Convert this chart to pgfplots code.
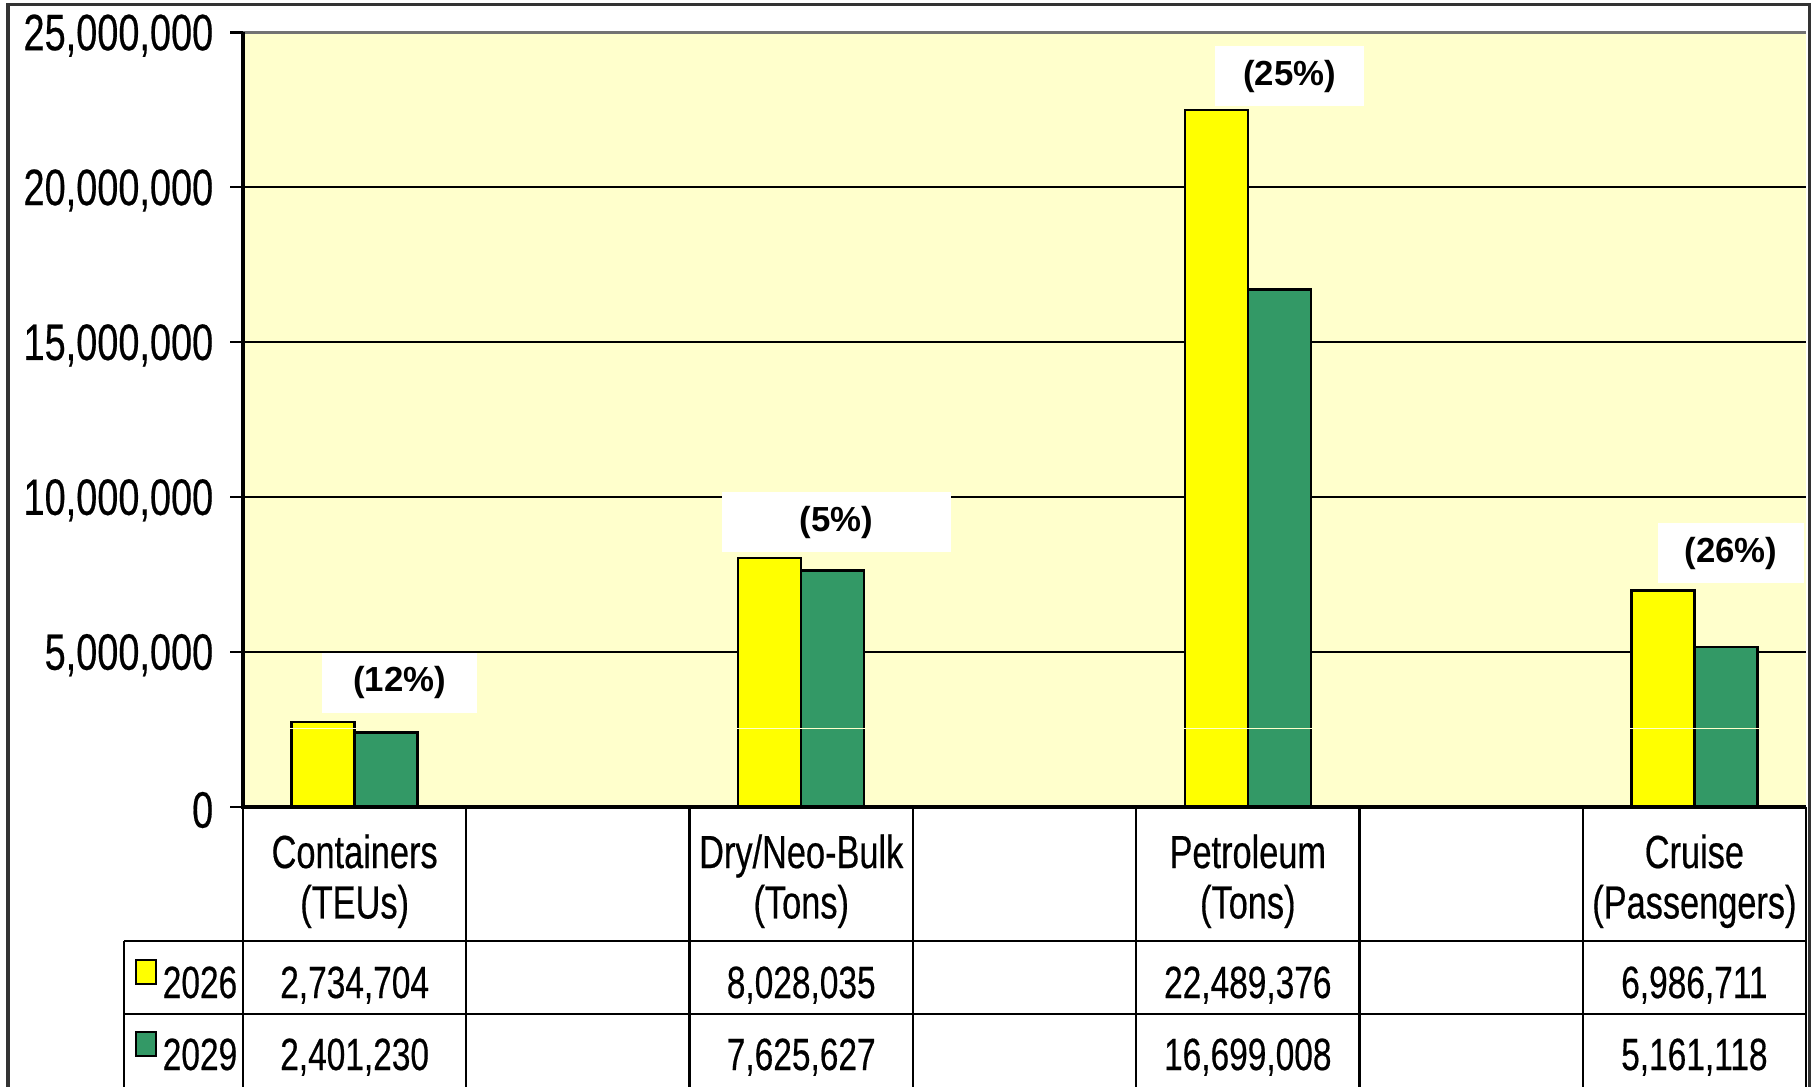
\documentclass[border=0pt]{standalone}
\usepackage{fontspec}
\setmainfont{Liberation Sans}
\newfontfamily\narrow{Liberation Sans}[FakeStretch=0.74, FakeBold=0.4]
\usepackage{pgfplots}
\pgfplotsset{compat=1.18}
\definecolor{bgy}{HTML}{FFFFCC}
\definecolor{yel}{HTML}{FFFF00}
\definecolor{grn}{HTML}{339966}
\newcommand{\colx}[1]{60.75+#1*55.8214}
\begin{document}
\begin{tikzpicture}[x=1pt,y=1pt]
\useasboundingbox (0,0) rectangle (453.75,271.5);
\begin{axis}[
  at={(60.75pt,69.8pt)}, anchor=south west,
  scale only axis, width=390.75pt, height=193.6pt,
  xmin=-0.5, xmax=6.5, ymin=0, ymax=25000000,
  scaled y ticks=false,
  axis background/.style={fill=bgy},
  axis line style={draw=none},
  ybar=0pt, bar width=15.75pt,
  xtick=\empty,
  ytick={0,5000000,10000000,15000000,20000000,25000000},
  yticklabels={0,{5,000,000},{10,000,000},{15,000,000},{20,000,000},{25,000,000}},
  yticklabel style={font=\narrow\fontsize{12.8}{14}\selectfont, inner xsep=0pt, inner ysep=0pt, xshift=-4pt, yshift=-0.8pt},
  ytick pos=left,
  tick align=outside, major tick length=3.25pt,
  major tick style={black, line width=0.6pt},
  ymajorgrids, major grid style={black, line width=0.5pt},
  clip=false,
]
\addplot[fill=yel, draw=black, line width=0.6pt] coordinates {(0,2734704) (2,8028035) (4,22489376) (6,6986711)};
\addplot[fill=grn, draw=black, line width=0.6pt] coordinates {(0,2401230) (2,7625627) (4,16699008) (6,5161118)};
\draw[bgy, line width=0.35pt] (axis cs:-0.5,2520000) -- (axis cs:6.5,2520000);
\draw[black!55, line width=0.8pt] (rel axis cs:0,1) -- (rel axis cs:1,1);
\draw[black, line width=1pt] (rel axis cs:0,1) -- (rel axis cs:0,0) -- (rel axis cs:1,0);
\tikzset{pct/.style={fill=white, minimum height=15pt, inner sep=0pt, font=\bfseries\fontsize{8.7}{10}\selectfont}}
\node[pct, minimum width=38.75pt] at (axis cs:0.201,4000000) {(12\%)};
\node[pct, minimum width=57.25pt] at (axis cs:2.158,9194000) {(5\%)};
\node[pct, minimum width=37.25pt] at (axis cs:4.187,23590000) {(25\%)};
\node[pct, minimum width=36.5pt] at (axis cs:6.164,8190000) {(26\%)};
\end{axis}
% outer frame
\draw[black!80, line width=0.8pt] (2,-2) -- (2,270.4) -- (452.3,270.4) -- (452.3,-2);
% table grid
\foreach \k in {0,...,7} \draw[line width=0.6pt] ({\colx{\k}},69.8) -- ({\colx{\k}},-1);
\draw[line width=0.6pt] (31,36.25) -- (451.5,36.25);
\draw[line width=0.6pt] (31,18) -- (451.5,18);
\draw[line width=0.6pt] (31,36.25) -- (31,-1);
% header
\tikzset{hdr/.style={align=center, inner sep=0pt, font=\narrow\fontsize{11.6}{12.6}\selectfont},
         val/.style={anchor=base, inner sep=0pt, font=\narrow\fontsize{11.3}{12.5}\selectfont}}
\node[hdr] at ({\colx{0.5}},51.2) {Containers\\(TEUs)};
\node[hdr] at ({\colx{2.5}},51.2) {Dry/Neo-Bulk\\(Tons)};
\node[hdr] at ({\colx{4.5}},51.2) {Petroleum\\(Tons)};
\node[hdr] at ({\colx{6.5}},51.2) {Cruise\\(Passengers)};
% values
\node[val] at ({\colx{0.5}},22) {2,734,704};
\node[val] at ({\colx{2.5}},22) {8,028,035};
\node[val] at ({\colx{4.5}},22) {22,489,376};
\node[val] at ({\colx{6.5}},22) {6,986,711};
\node[val] at ({\colx{0.5}},4) {2,401,230};
\node[val] at ({\colx{2.5}},4) {7,625,627};
\node[val] at ({\colx{4.5}},4) {16,699,008};
\node[val] at ({\colx{6.5}},4) {5,161,118};
% legend keys
\filldraw[fill=yel, draw=black, line width=0.5pt] (34.1,25.5) rectangle (39.1,31.5);
\filldraw[fill=grn, draw=black, line width=0.5pt] (34.1,7.5) rectangle (39.1,13.5);
\node[val, anchor=base west] at (40.5,22) {2026};
\node[val, anchor=base west] at (40.5,4) {2029};
\end{tikzpicture}
\end{document}
